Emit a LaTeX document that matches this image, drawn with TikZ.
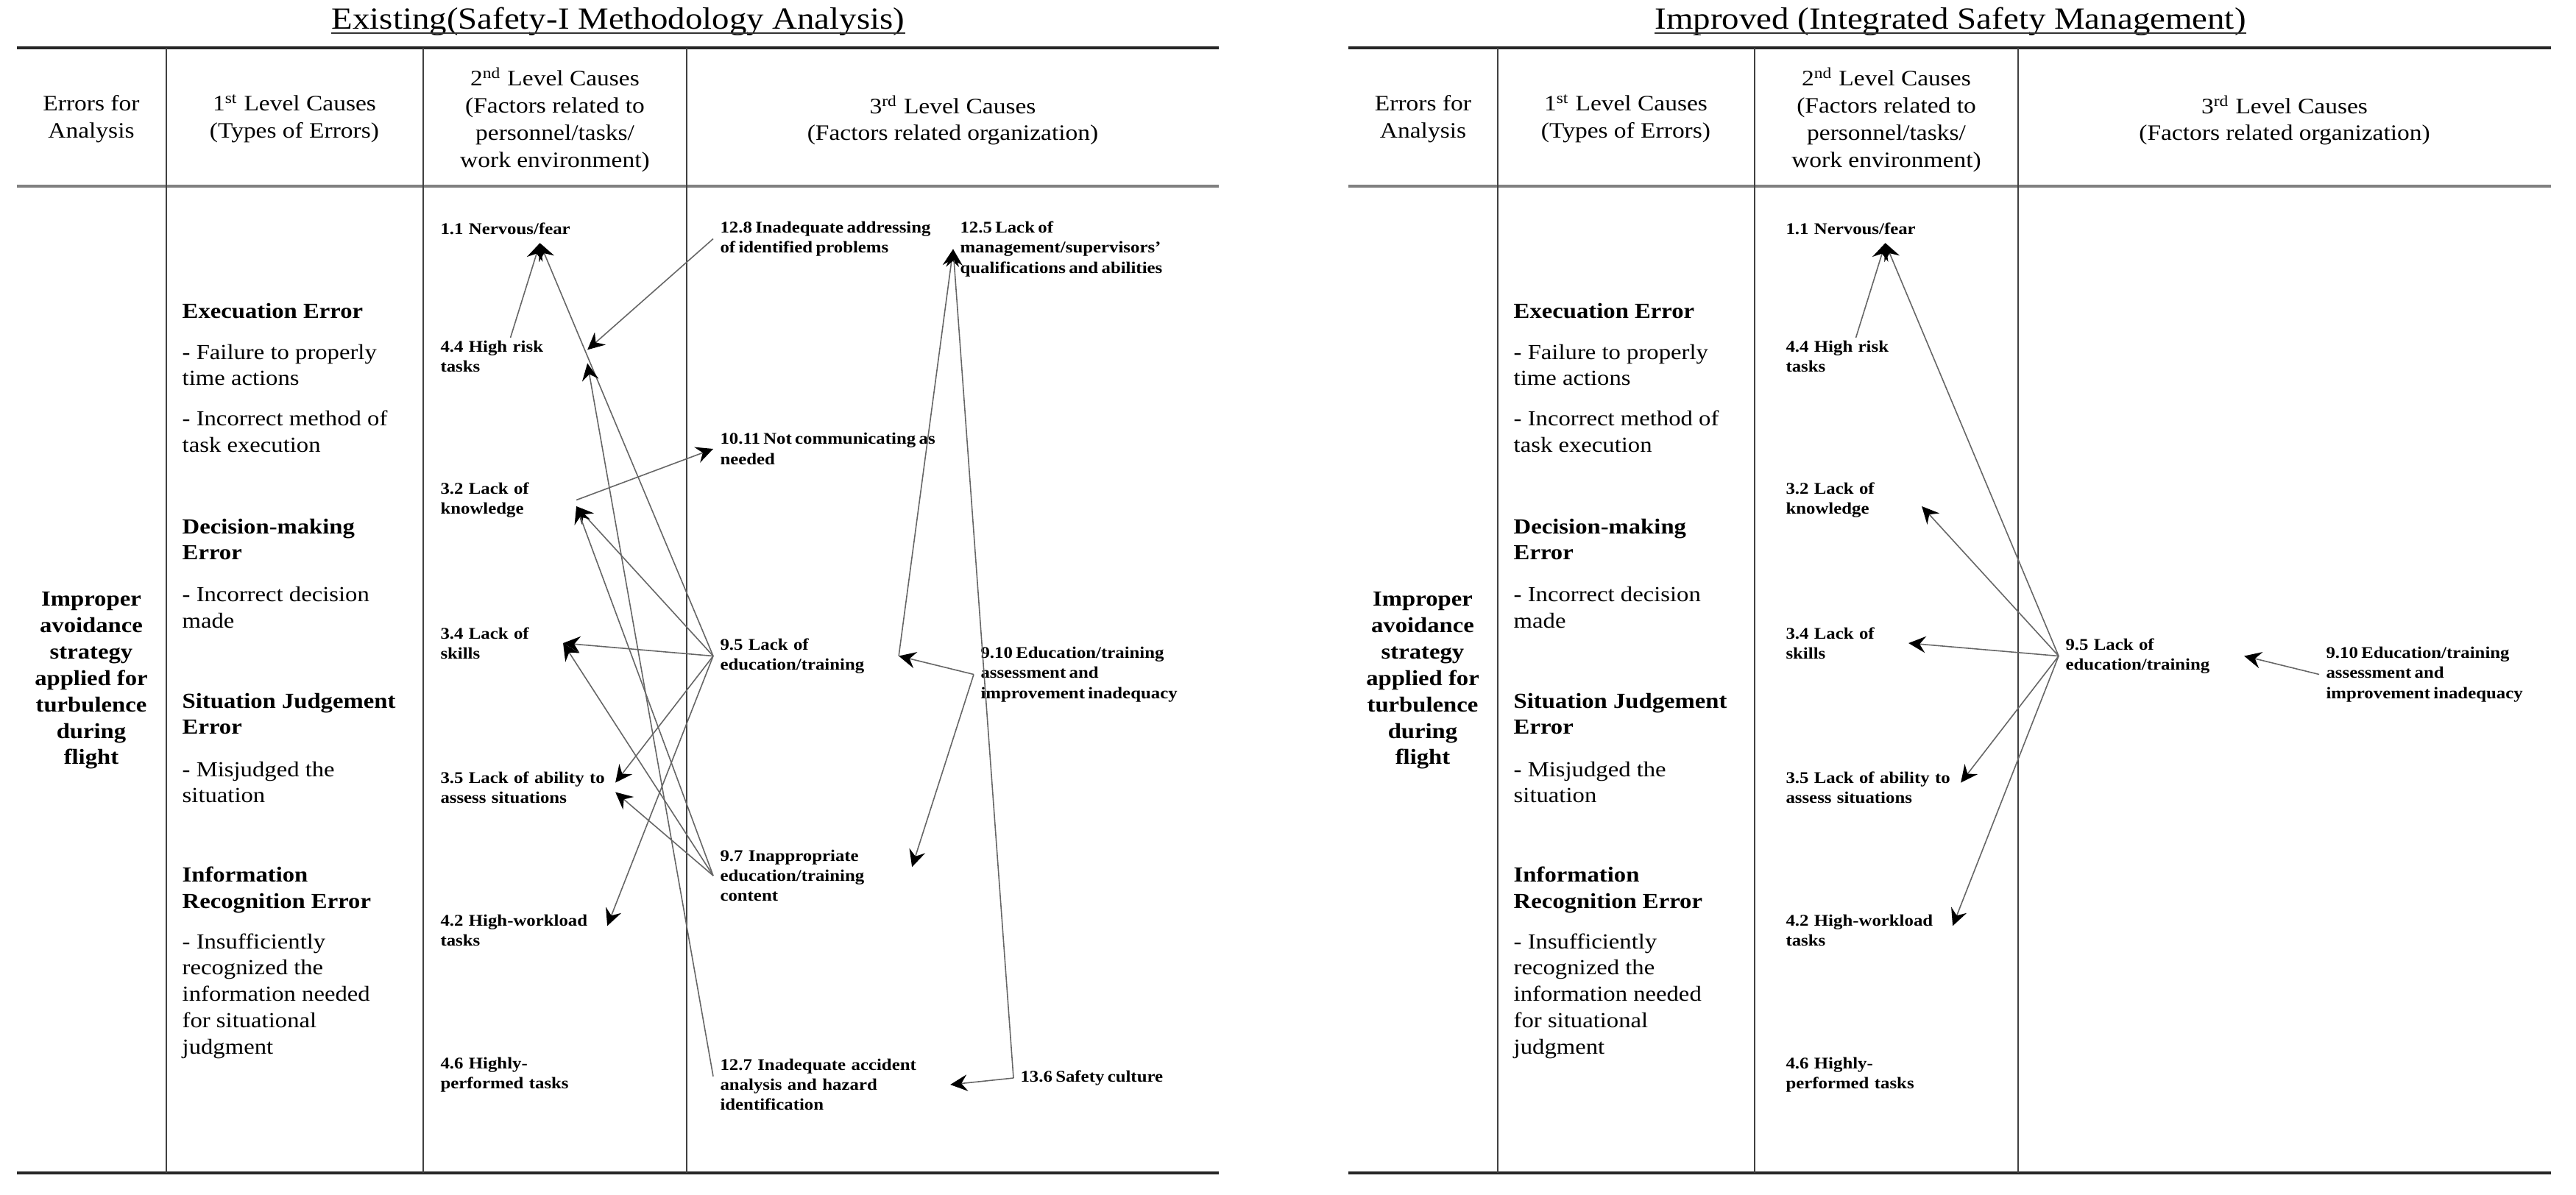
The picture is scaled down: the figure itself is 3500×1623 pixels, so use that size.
\documentclass[tikz,border=0pt]{standalone}
\usepackage{fontspec}
\setmainfont{Liberation Serif}[FakeStretch=1.12]
\newfontfamily\lblfont{Liberation Serif}[FakeStretch=1.12,WordSpace=0.7]
\usetikzlibrary{arrows.meta}
\begin{document}
\begin{tikzpicture}[x=0.01cm,y=-0.01cm,
  ttl/.style={inner sep=0pt, anchor=base, font=\fontsize{11.9pt}{14pt}\selectfont},
  hdr/.style={inner sep=0pt, align=center, font=\fontsize{8.5pt}{10.5pt}\selectfont},
  colone/.style={inner sep=0pt, align=center, font=\fontsize{8.3pt}{10.2pt}\selectfont\bfseries},
  lvlhead/.style={inner sep=0pt, anchor=west, align=left, font=\fontsize{8.3pt}{10.2pt}\selectfont\bfseries},
  lvlitem/.style={inner sep=0pt, anchor=west, align=left, font=\fontsize{8.3pt}{10.2pt}\selectfont},
  lbl/.style={inner xsep=2.5pt, inner ysep=1pt, anchor=west, align=left, font=\lblfont\fontsize{6.3pt}{7.75pt}\selectfont\bfseries},
  toprule/.style={line width=1.1pt, draw=black!85},
  midrule/.style={line width=0.9pt, draw=black!50},
  colrule/.style={line width=0.55pt, draw=black!75},
  uline/.style={line width=0.6pt, draw=black!80},
  conn/.style={draw=black!60, line width=0.45pt, -{Stealth[length=6.6pt,width=6.4pt,inset=2.3pt,color=black]}},
]
\useasboundingbox (0,0) rectangle (3500,1623);

% ---------------- LEFT TABLE ----------------
\draw[toprule] (23,65) -- (1656,65);
\draw[midrule] (23,253) -- (1656,253);
\draw[toprule] (23,1594) -- (1656,1594);
\draw[colrule] (226,65) -- (226,1594);
\draw[colrule] (575,65) -- (575,1594);
\draw[colrule] (933,65) -- (933,1594);

\node[ttl] (tL) at (840,39) {Existing(Safety-I Methodology Analysis)};
\draw[uline] ([yshift=-1.8pt]tL.base west) -- ([yshift=-1.8pt]tL.base east);

\node[hdr] (hA) at (124,161.5) {Errors for\\Analysis};
\node[hdr] (hB) at (400,161.5) {1\textsuperscript{st} Level Causes\\(Types of Errors)};
\node[hdr] (hC) at (754,163) {2\textsuperscript{nd} Level Causes\\(Factors related to\\personnel/tasks/\\work environment)};
\node[hdr] (hD) at (1294.5,163.5) {3\textsuperscript{rd} Level Causes\\(Factors related organization)};

\node[colone] (cA) at (124,925) {Improper\\avoidance\\strategy\\applied for\\turbulence\\during\\flight};

\node[lvlhead] (e1) at (247,423) {Execuation Error};
\node[lvlitem] (e1a) at (247,496) {- Failure to properly\\time actions};
\node[lvlitem] (e1b) at (247,586) {- Incorrect method of\\task execution};
\node[lvlhead] (e2) at (247,733) {Decision-making\\Error};
\node[lvlitem] (e2a) at (247,825.5) {- Incorrect decision\\made};
\node[lvlhead] (e3) at (247,970) {Situation Judgement\\Error};
\node[lvlitem] (e3a) at (247,1063) {- Misjudged the\\situation};
\node[lvlhead] (e4) at (247,1209.5) {Information\\Recognition Error};
\node[lvlitem] (e4a) at (247,1353.6) {- Insufficiently\\recognized the\\information needed\\for situational\\judgment};

\node[lbl, text width=2.70cm] (a11) at (589,311) {1.1 Nervous/fear};
\node[lbl, text width=1.90cm] (a44) at (589,484.5) {4.4 High risk\\tasks};
\node[lbl, text width=1.75cm] (a32) at (589,679.5) {3.2 Lack of\\knowledge};
\node[lbl, text width=1.57cm] (a34) at (589,874) {3.4 Lack of\\skills};
\node[lbl, text width=2.28cm] (a35) at (589,1070) {\mbox{3.5 Lack of ability to}\\assess situations};
\node[lbl, text width=2.17cm] (a42) at (589,1264.5) {4.2 High-workload\\tasks};
\node[lbl, text width=2.20cm] (a46) at (589,1460.5) {4.6 Highly-\\performed tasks};

\node[lbl] (b128) at (969,324.5) {12.8 Inadequate addressing\\of identified problems};
\node[lbl] (b125) at (1295,338.5) {12.5 Lack of\\management/supervisors’\\qualifications and abilities};
\node[lbl] (b1011) at (969,610) {10.11 Not communicating as\\needed};
\node[lbl, text width=2.33cm] (b95) at (969,891.5) {9.5 Lack of\\education/training};
\node[lbl] (b910) at (1323,916.5) {9.10 Education/training\\assessment and\\improvement inadequacy};
\node[lbl, text width=2.51cm] (b97) at (969,1190) {9.7 Inappropriate\\education/training\\content};
\node[lbl, text width=3.03cm] (b127) at (969,1474) {12.7 Inadequate accident\\analysis and hazard\\identification};
\node[lbl] (b136) at (1377,1465) {13.6 Safety culture};

\draw[conn] (a44.north) -- ([yshift=-2pt]a11.south);
\draw[conn] (b95.west) -- ([yshift=-2pt]a11.south);
\draw[conn] (b128.west) -- (a44.5);
\draw[conn] (b127.176) -- (a44.-5);
\draw[conn] (a32.east) -- (b1011.west);
\draw[conn] (b95.west) -- (a32.-5);
\draw[conn] (b97.west) -- (a32.-5);
\draw[conn] (b95.west) -- (a34.east);
\draw[conn] (b97.west) -- (a34.east);
\draw[conn] (b95.west) -- (a35.3);
\draw[conn] (b97.west) -- (a35.-3);
\draw[conn] (b95.west) -- (a42.3);
\draw[conn] (b910.west) -- (b95.east);
\draw[conn] (b910.west) -- (b97.5);
\draw[conn] (b95.east) -- (b125.west);
\draw[conn] (b136.west) -- (b125.west);
\draw[conn] (b136.west) -- (b127.east);

% ---------------- RIGHT TABLE ----------------
\draw[toprule] (1832,65) -- (3466,65);
\draw[midrule] (1832,253) -- (3466,253);
\draw[toprule] (1832,1594) -- (3466,1594);
\draw[colrule] (2035,65) -- (2035,1594);
\draw[colrule] (2384,65) -- (2384,1594);
\draw[colrule] (2742,65) -- (2742,1594);

\node[ttl] (tR) at (2650,39) {Improved (Integrated Safety Management)};
\draw[uline] ([yshift=-1.8pt]tR.base west) -- ([yshift=-1.8pt]tR.base east);

\node[hdr] (rA) at (1933.5,161.5) {Errors for\\Analysis};
\node[hdr] (rB) at (2209,161.5) {1\textsuperscript{st} Level Causes\\(Types of Errors)};
\node[hdr] (rC) at (2563,163) {2\textsuperscript{nd} Level Causes\\(Factors related to\\personnel/tasks/\\work environment)};
\node[hdr] (rD) at (3104,163.5) {3\textsuperscript{rd} Level Causes\\(Factors related organization)};

\node[colone] (rcA) at (1933,925) {Improper\\avoidance\\strategy\\applied for\\turbulence\\during\\flight};

\node[lvlhead] (f1) at (2056,423) {Execuation Error};
\node[lvlitem] (f1a) at (2056,496) {- Failure to properly\\time actions};
\node[lvlitem] (f1b) at (2056,586) {- Incorrect method of\\task execution};
\node[lvlhead] (f2) at (2056,733) {Decision-making\\Error};
\node[lvlitem] (f2a) at (2056,825.5) {- Incorrect decision\\made};
\node[lvlhead] (f3) at (2056,970) {Situation Judgement\\Error};
\node[lvlitem] (f3a) at (2056,1063) {- Misjudged the\\situation};
\node[lvlhead] (f4) at (2056,1209.5) {Information\\Recognition Error};
\node[lvlitem] (f4a) at (2056,1353.6) {- Insufficiently\\recognized the\\information needed\\for situational\\judgment};

\node[lbl, text width=2.70cm] (c11) at (2417,311) {1.1 Nervous/fear};
\node[lbl, text width=1.90cm] (c44) at (2417,484.5) {4.4 High risk\\tasks};
\node[lbl, text width=1.75cm] (c32) at (2417,679.5) {3.2 Lack of\\knowledge};
\node[lbl, text width=1.57cm] (c34) at (2417,874) {3.4 Lack of\\skills};
\node[lbl, text width=2.28cm] (c35) at (2417,1070) {\mbox{3.5 Lack of ability to}\\assess situations};
\node[lbl, text width=2.17cm] (c42) at (2417,1264.5) {4.2 High-workload\\tasks};
\node[lbl, text width=2.20cm] (c46) at (2417,1460.5) {4.6 Highly-\\performed tasks};

\node[lbl, text width=2.33cm] (d95) at (2797,891.5) {9.5 Lack of\\education/training};
\node[lbl] (d910) at (3151,916.5) {9.10 Education/training\\assessment and\\improvement inadequacy};

\draw[conn] (c44.north) -- ([yshift=-2pt]c11.south);
\draw[conn] (d95.west) -- ([yshift=-2pt]c11.south);
\draw[conn] (d95.west) -- (c32.-5);
\draw[conn] (d95.west) -- (c34.east);
\draw[conn] (d95.west) -- (c35.3);
\draw[conn] (d95.west) -- (c42.3);
\draw[conn] (d910.west) -- (d95.east);
\end{tikzpicture}
\end{document}
